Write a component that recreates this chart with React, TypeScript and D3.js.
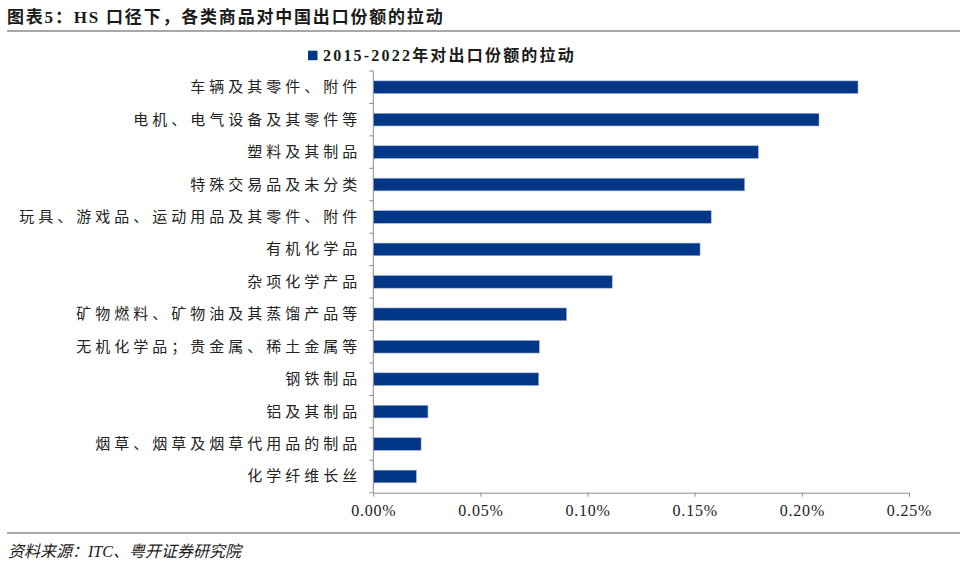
import React, { useEffect, useRef } from 'react';
import * as d3 from 'd3';

// categories, top to bottom
const categories = [
    '车辆及其零件、附件',
    '电机、电气设备及其零件等',
    '塑料及其制品',
    '特殊交易品及未分类',
    '玩具、游戏品、运动用品及其零件、附件',
    '有机化学品',
    '杂项化学产品',
    '矿物燃料、矿物油及其蒸馏产品等',
    '无机化学品；贵金属、稀土金属等',
    '钢铁制品',
    '铝及其制品',
    '烟草、烟草及烟草代用品的制品',
    '化学纤维长丝',
];

// 2015-2022 pull on export share, in percent
const pull = [0.2262, 0.208, 0.1797, 0.1733, 0.1577, 0.1525, 0.1115, 0.0902, 0.0775, 0.0772, 0.0255, 0.0223, 0.0201];

const xTicks = [0, 0.05, 0.1, 0.15, 0.2, 0.25];
const seriesName = '2015-2022年对出口份额的拉动';
const title = '图表5：HS 口径下，各类商品对中国出口份额的拉动';
const source = '资料来源：ITC、粤开证券研究院';

const W = 960;
const H = 569;
const margins = { left: 373.3, right: W - 909, top: 71, bottom: H - 492.7 };
const BLUE = '#023687';
const AXIS = '#8c8c8c';
const FONT = "'Liberation Serif', 'Noto Sans CJK SC', serif";

const xScale = d3.scaleLinear().domain([0, 0.25]).range([margins.left, W - margins.right]);
const yScale = d3.scaleBand<string>()
    .domain(categories)
    .range([margins.top, H - margins.bottom])
    .paddingInner(0.61)
    .paddingOuter(0.305);

const XAxis = () => {
    const ref = useRef<SVGGElement>(null);
    useEffect(() => {
        const axis = d3.axisBottom(xScale)
            .tickValues(xTicks)
            .tickSize(4)
            .tickSizeOuter(0)
            .tickPadding(8)
            .tickFormat((d) => `${(+d).toFixed(2)}%`);
        const g = d3.select(ref.current!).call(axis);
        g.select('.domain').attr('stroke', AXIS);
        g.selectAll('.tick line').attr('stroke', AXIS);
        g.selectAll('.tick text')
            .attr('font-family', FONT)
            .attr('font-size', 16)
            .attr('letter-spacing', 0.8)
            .attr('fill', '#222');
    }, []);
    return <g ref={ref} transform={`translate(0,${H - margins.bottom})`} />;
};

const YAxis = () => {
    const step = yScale.step();
    const gap = (step - yScale.bandwidth()) / 2;
    const bounds = categories.map((c) => (yScale(c) as number) - gap);
    bounds.push(H - margins.bottom);
    return (
        <g>
            <line x1={margins.left} x2={margins.left} y1={margins.top} y2={H - margins.bottom} stroke={AXIS} />
            {bounds.map((y, i) => (
                <line key={i} x1={margins.left - 4} x2={margins.left} y1={y} y2={y} stroke={AXIS} />
            ))}
            {categories.map((c) => (
                <text
                    key={c}
                    x={margins.left - 12}
                    y={(yScale(c) as number) + yScale.bandwidth() / 2}
                    textAnchor="end"
                    dominantBaseline="central"
                    fontSize={15}
                    letterSpacing={4}
                    fill="#222"
                >
                    {c}
                </text>
            ))}
        </g>
    );
};

const Bars = () => (
    <g>
        {categories.map((c, i) => (
            <rect
                key={c}
                x={xScale(0)}
                y={yScale(c)}
                width={xScale(pull[i]) - xScale(0)}
                height={yScale.bandwidth()}
                fill={BLUE}
                stroke="#9fb3d6"
                strokeWidth={0.6}
            />
        ))}
    </g>
);

export default function App() {
    return (
        <svg
            width={W}
            height={H}
            style={{ position: 'absolute', left: 0, top: 0, background: '#fff' }}
            fontFamily={FONT}
        >
            <text x={7} y={17} dominantBaseline="central" fontSize={17} fontWeight="bold" letterSpacing={1.8} fill="#1a1a1a">
                {title}
            </text>
            <line x1={7} x2={W} y1={31} y2={31} stroke="#a8a8a8" strokeWidth={2} />

            <rect x={308} y={50.7} width={9.5} height={9.5} fill={BLUE} />
            <text x={323} y={55.5} dominantBaseline="central" fontSize={16} fontWeight="bold" letterSpacing={2.2} fill="#1a1a1a">
                {seriesName}
            </text>

            <Bars />
            <YAxis />
            <XAxis />

            <line x1={7} x2={W} y1={533} y2={533} stroke="#a8a8a8" strokeWidth={2} />
            <text x={8} y={551} dominantBaseline="central" fontSize={16} fontStyle="italic" fill="#1a1a1a">
                {source}
            </text>
        </svg>
    );
}
